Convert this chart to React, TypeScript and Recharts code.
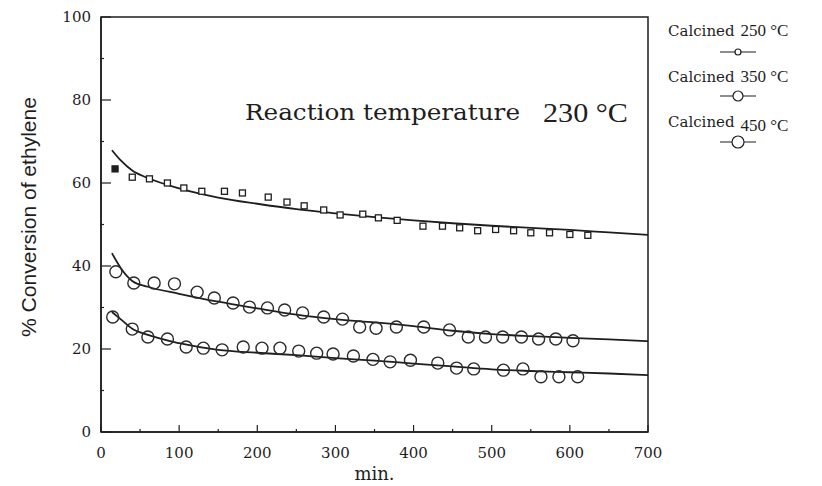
import React from "react";
import {
  ComposedChart,
  Line,
  Scatter,
  XAxis,
  YAxis,
  ReferenceArea,
} from "recharts";

// measured points (min, % conversion) for each calcination temperature
const calc250 = [
  [18, 63.4], [40, 61.4], [62, 61], [85, 60], [106, 58.8], [129, 58], [158, 58],
  [181, 57.6], [214, 56.6], [238, 55.4], [260, 54.5], [285, 53.5], [306, 52.3],
  [335, 52.5], [355, 51.6], [379, 51], [412, 49.6], [437, 49.6], [459, 49.2],
  [482, 48.5], [505, 48.8], [528, 48.5], [550, 48], [574, 48], [600, 47.6], [623, 47.4],
];
const calc350 = [
  [19, 38.6], [42, 35.9], [68, 35.9], [94, 35.7], [123, 33.7], [145, 32.3], [169, 31.1],
  [190, 30.1], [213, 29.9], [235, 29.4], [258, 28.7], [285, 27.7], [309, 27.2],
  [331, 25.3], [352, 25], [378, 25.3], [413, 25.3], [446, 24.6], [470, 22.9],
  [492, 22.9], [514, 22.9], [538, 22.9], [560, 22.4], [582, 22.4], [604, 22],
];
const calc450 = [
  [15, 27.7], [40, 24.8], [60, 22.9], [85, 22.4], [109, 20.5], [131, 20.2], [155, 19.8],
  [182, 20.5], [206, 20.2], [229, 20.2], [253, 19.5], [276, 19], [297, 18.8],
  [323, 18.3], [348, 17.5], [370, 16.9], [396, 17.3], [431, 16.6], [455, 15.4],
  [477, 15.2], [515, 14.9], [540, 15.2], [563, 13.3], [586, 13.3], [610, 13.3],
];

// fitted curves
const fitTimes = [14, 25, 40, 60, 100, 150, 200, 250, 300, 350, 400, 450, 500, 550, 600, 650, 700];
const fit250 = [67.9, 65.5, 63, 61.2, 58.7, 56.5, 55, 53.7, 52.7, 51.8, 51, 50.3, 49.7, 49.2, 48.7, 48.1, 47.5];
const fit350 = [43.1, 39.6, 36.4, 35, 33.3, 31.4, 29.8, 28.3, 27.2, 26.4, 25.5, 24.4, 23.6, 23.1, 22.7, 22.3, 21.9];
const fit450 = [28.9, 27.2, 24.9, 23.4, 21.4, 19.8, 19.1, 18.5, 17.8, 17.2, 16.5, 15.8, 15.1, 14.7, 14.4, 14.1, 13.7];

const xTicks = [0, 50, 100, 150, 200, 250, 300, 350, 400, 450, 500, 550, 600, 650, 700];
const yTicks = [0, 10, 20, 30, 40, 50, 60, 70, 80, 90, 100];

const legendLabels = ["250 °C", "350 °C", "450 °C"];

const INK = "#1e1e1e";
const SERIF = "'DejaVu Serif', 'Liberation Serif', serif";
const PLOT_LEFT = 101;
const PLOT_BOTTOM = 432;

const toPts = (arr: number[][]) => arr.map(([t, v]) => ({ t, v }));
const toFit = (vals: number[]) => fitTimes.map((t, i) => ({ t, v: vals[i] }));

function XTick(props: any) {
  const { x, payload } = props;
  const major = payload.value % 100 === 0;
  return (
    <g>
      <line x1={x} x2={x} y1={PLOT_BOTTOM} y2={PLOT_BOTTOM - (major ? 7 : 3)} stroke={INK} strokeWidth={1.2} />
      {major ? (
        <text x={x} y={458} textAnchor="middle" fontFamily={SERIF} fontSize={15} fill={INK}>
          {payload.value}
        </text>
      ) : null}
    </g>
  );
}

function YTick(props: any) {
  const { y, payload } = props;
  const major = payload.value % 20 === 0;
  return (
    <g>
      <line x1={PLOT_LEFT} x2={PLOT_LEFT + (major ? 10 : 3)} y1={y} y2={y} stroke={INK} strokeWidth={1.2} />
      {major ? (
        <text x={91} y={y + 5} textAnchor="end" fontFamily={SERIF} fontSize={15} fill={INK}>
          {payload.value}
        </text>
      ) : null}
    </g>
  );
}

function SquareDot(props: any) {
  const { cx, cy, index } = props;
  return (
    <rect x={cx - 3} y={cy - 3} width={6} height={6} fill={index === 0 ? INK : "#fff"} stroke={INK} strokeWidth={1.3} />
  );
}

function CircleDot(props: any) {
  const { cx, cy } = props;
  return <circle cx={cx} cy={cy} r={6} fill="none" stroke="#2a2a2a" strokeWidth={1.4} />;
}

function YLabel() {
  return (
    <text
      x={28}
      y={217}
      transform="rotate(-90 28 217)"
      textAnchor="middle"
      dominantBaseline="central"
      fontFamily="'Liberation Sans Narrow', 'Liberation Sans', sans-serif"
      fontSize={21}
      fill={INK}
      textLength={240}
      lengthAdjust="spacingAndGlyphs"
    >
      % Conversion of ethylene
    </text>
  );
}

export default function App() {
  const legendRows = [
    { y: 36, my: 52, r: 3 },
    { y: 82, my: 96, r: 5 },
    { y: 127, my: 142, r: 6 },
  ];
  return (
    <div style={{ position: "fixed", left: 0, top: 0, width: 822, height: 486, background: "#fff" }}>
      <ComposedChart width={822} height={486} margin={{ top: 17, right: 174, bottom: 24, left: 0 }}>
        <XAxis
          type="number"
          dataKey="t"
          domain={[0, 700]}
          ticks={xTicks}
          tick={<XTick />}
          tickLine={false}
          axisLine={{ stroke: INK, strokeWidth: 1.5 }}
          height={30}
          label={{
            value: "min.",
            position: "insideBottom",
            offset: -18,
            fontFamily: SERIF,
            fontSize: 18,
            fill: INK,
          }}
        />
        <YAxis
          type="number"
          dataKey="v"
          domain={[0, 100]}
          ticks={yTicks}
          tick={<YTick />}
          tickLine={false}
          axisLine={{ stroke: INK, strokeWidth: 1.5 }}
          width={101}
          label={{ content: () => <YLabel /> }}
        />
        <ReferenceArea x1={0} x2={700} y1={0} y2={100} fill="none" stroke={INK} strokeWidth={1.5} />
        <Line data={toFit(fit250)} dataKey="v" type="monotone" dot={false} stroke={INK} strokeWidth={1.8} isAnimationActive={false} />
        <Line data={toFit(fit350)} dataKey="v" type="monotone" dot={false} stroke={INK} strokeWidth={1.8} isAnimationActive={false} />
        <Line data={toFit(fit450)} dataKey="v" type="monotone" dot={false} stroke={INK} strokeWidth={1.8} isAnimationActive={false} />
        <Scatter data={toPts(calc250)} dataKey="v" shape={<SquareDot />} isAnimationActive={false} />
        <Scatter data={toPts(calc350)} dataKey="v" shape={<CircleDot />} isAnimationActive={false} />
        <Scatter data={toPts(calc450)} dataKey="v" shape={<CircleDot />} isAnimationActive={false} />
      </ComposedChart>
      <svg width={822} height={486} style={{ position: "absolute", left: 0, top: 0, pointerEvents: "none" }}>
        <text x={245} y={120} fontFamily={SERIF} fontSize={22} fill={INK} textLength={275} lengthAdjust="spacingAndGlyphs">
          Reaction temperature
        </text>
        <text x={543} y={122} fontFamily="'Liberation Serif', serif" fontSize={27} fill={INK} textLength={85} lengthAdjust="spacingAndGlyphs">
          230 °C
        </text>
        {legendRows.map((row, i) => (
          <g key={legendLabels[i]}>
            <text x={668} y={row.y} fontFamily={SERIF} fontSize={15} fill={INK}>
              Calcined
              <tspan dx={6} fontFamily="'Liberation Serif', serif" fontSize={17} dy={i === 2 ? 4 : 0}>
                {legendLabels[i]}
              </tspan>
            </text>
            <line x1={720} x2={756} y1={row.my} y2={row.my} stroke={INK} strokeWidth={1.2} />
            <circle cx={738} cy={row.my} r={row.r} fill="#fff" stroke={INK} strokeWidth={1.2} />
          </g>
        ))}
      </svg>
    </div>
  );
}
